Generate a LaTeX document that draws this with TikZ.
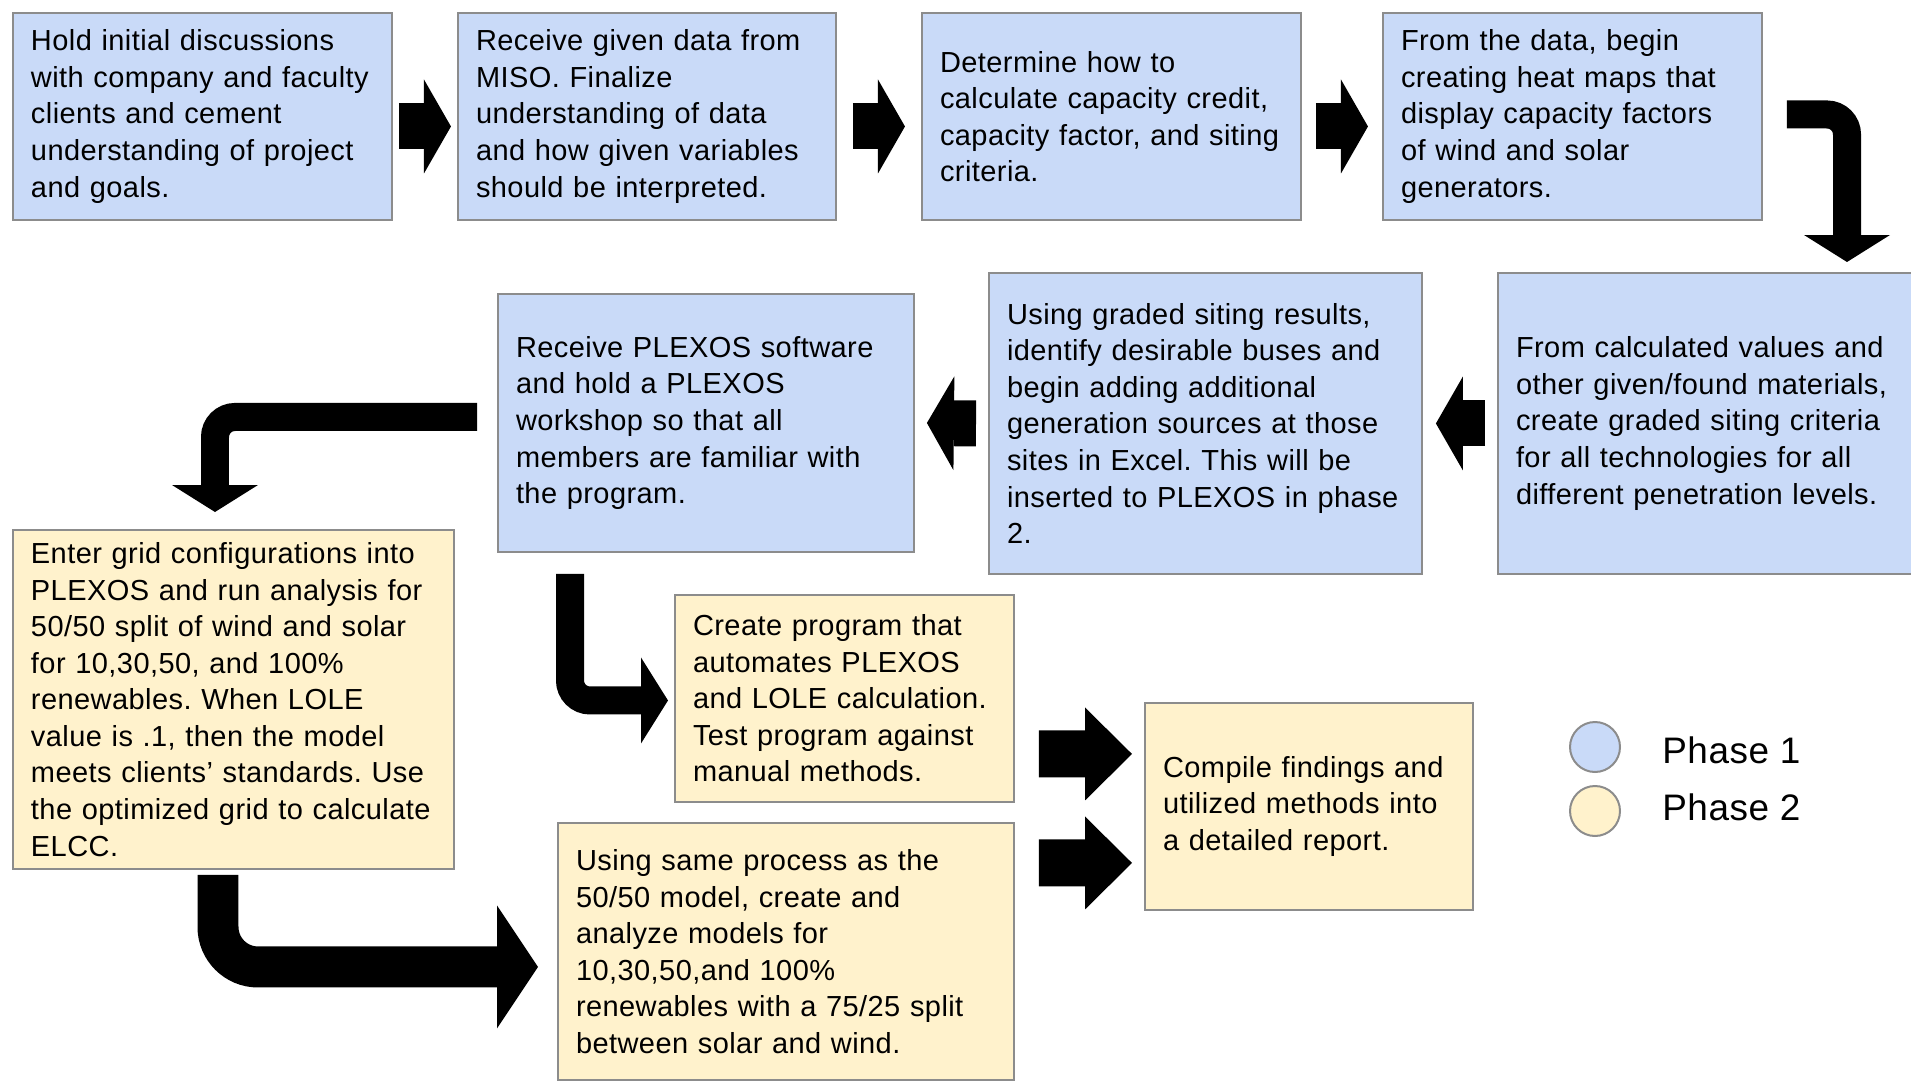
\documentclass[tikz,border=0pt]{standalone}
\usepackage{fontspec}
\setmainfont{Liberation Sans}[LetterSpace=1.5]
\usetikzlibrary{arrows.meta,calc}
\definecolor{phaseone}{HTML}{C9DAF8}
\definecolor{phasetwo}{HTML}{FFF2CC}
\definecolor{rim}{HTML}{8C8C8C}
\frenchspacing
\tikzset{
  box/.style={draw=rim, line width=0.04cm, anchor=north west, align=left, inner xsep=0.36cm, inner ysep=0pt, font=\fontsize{16.5pt}{20.8pt}\selectfont},
  one/.style={box, fill=phaseone},
  two/.style={box, fill=phasetwo},
  fatarrow/.style={line width=0.92cm, -{Triangle[length=0.54cm, width=1.88cm, line width=0pt]}},
  bigarrow/.style={line width=0.94cm, -{Triangle[length=0.94cm, width=1.86cm, line width=0pt]}},
  bendarrow/.style={line width=0.56cm, rounded corners=0.4cm, -{Triangle[length=0.54cm, width=1.72cm, line width=0pt]}},
  bigbend/.style={line width=0.82cm, rounded corners=0.8cm, -{Triangle[length=0.82cm, width=2.46cm, line width=0pt]}},
  legend/.style={circle, draw=rim, line width=0.04cm, minimum size=1.0cm, inner sep=0pt}
}
\begin{document}
\begin{tikzpicture}[x=0.02cm, y=-0.02cm]
\useasboundingbox (0,0) rectangle (1911,1081);
% phase 1
\node[one, minimum width=7.58cm, minimum height=4.14cm, text width=6.86cm] (st1) at (12,12) {Hold initial discussions\\with company and faculty\\clients and cement\\understanding of project\\and goals.};
\node[one, minimum width=7.56cm, minimum height=4.14cm, text width=6.84cm] (st2) at (457,12) {Receive given data from\\MISO. Finalize\\understanding of data\\and how given variables\\should be interpreted.};
\node[one, minimum width=7.58cm, minimum height=4.14cm, text width=6.86cm] (st3) at (921,12) {Determine how to\\calculate capacity credit,\\capacity factor, and siting\\criteria.};
\node[one, minimum width=7.58cm, minimum height=4.14cm, text width=6.86cm] (st4) at (1382,12) {From the data, begin\\creating heat maps that\\display capacity factors\\of wind and solar\\generators.};
\node[one, minimum width=8.40cm, minimum height=6.02cm, text width=7.68cm] (st5) at (1497,272) {From calculated values and\\other given/found materials,\\create graded siting criteria\\for all technologies for all\\different penetration levels.};
\node[one, minimum width=8.66cm, minimum height=6.02cm, text width=7.94cm] (st6) at (988,272) {Using graded siting results,\\identify desirable buses and\\begin adding additional\\generation sources at those\\sites in Excel. This will be\\inserted to PLEXOS in phase\\2.};
\node[one, minimum width=8.32cm, minimum height=5.16cm, text width=7.60cm] (st7) at (497,293) {Receive PLEXOS software\\and hold a PLEXOS\\workshop so that all\\members are familiar with\\the program.};
% phase 2
\node[two, minimum width=8.82cm, minimum height=6.78cm, text width=8.10cm] (st8) at (12,529) {Enter grid configurations into\\PLEXOS and run analysis for\\50/50 split of wind and solar\\for 10,30,50, and 100\%\\renewables. When LOLE\\value is .1, then the model\\meets clients’ standards. Use\\the optimized grid to calculate\\ELCC.};
\node[two, minimum width=6.78cm, minimum height=4.14cm, text width=6.06cm] (st9) at (674,594) {Create program that\\automates PLEXOS\\and LOLE calculation.\\Test program against\\manual methods.};
\node[two, minimum width=9.12cm, minimum height=5.14cm, text width=8.40cm] (st10) at (557,822) {Using same process as the\\50/50 model, create and\\analyze models for\\10,30,50,and 100\%\\renewables with a 75/25 split\\between solar and wind.};
\node[two, minimum width=6.56cm, minimum height=4.14cm, text width=5.84cm] (st11) at (1144,702) {Compile findings and\\utilized methods into\\a detailed report.};
% arrows
\draw[fatarrow] ($(st1.east)!0.5!(st2.west)+(-26,10)$) -- ($(st1.east)!0.5!(st2.west)+(26,10)$);
\draw[fatarrow] ($(st2.east)!0.5!(st3.west)+(-26,10)$) -- ($(st2.east)!0.5!(st3.west)+(26,10)$);
\draw[fatarrow] ($(st3.east)!0.5!(st4.west)+(-26,10)$) -- ($(st3.east)!0.5!(st4.west)+(26,10)$);
\draw[bendarrow] ($(st4.east)+(24,-2)$) -| ($(st5.north west)+(350,-10)$);
\draw[fatarrow] ($(st5.west)+(-12,0)$) -- ($(st6.east)+(13,0)$);
\draw[fatarrow] ($(st6.west)+(-12,0)$) -- ($(st7.east)+(12,0)$);
\draw[bendarrow] ($(st7.west)+(-20,-6)$) -| ($(st8.north west)+(203,-17)$);
\draw[bendarrow] ($(st7.south west)+(73,21)$) |- ($(st9.west)+(-6,2)$);
\draw[bigbend] ($(st8.south west)+(206,5)$) |- ($(st10.west)+(-19,15.5)$);
\draw[bigarrow] ($(st9.east)+(24,55.5)$) -- ($(st11.west)+(-12,-52.5)$);
\draw[bigarrow] ($(st10.east)+(24,-88.5)$) -- ($(st11.west)+(-12,56.5)$);
% legend
\node[legend, fill=phaseone] (lg1) at (1595,747) {};
\node[legend, fill=phasetwo] (lg2) at (1595,811) {};
\node[anchor=base west, inner sep=0pt, font=\fontsize{21pt}{26pt}\selectfont] (lg1t) at (1662,763) {Phase 1};
\node[anchor=base west, inner sep=0pt, font=\fontsize{21pt}{26pt}\selectfont] (lg2t) at (1662,820) {Phase 2};
\end{tikzpicture}
\end{document}
